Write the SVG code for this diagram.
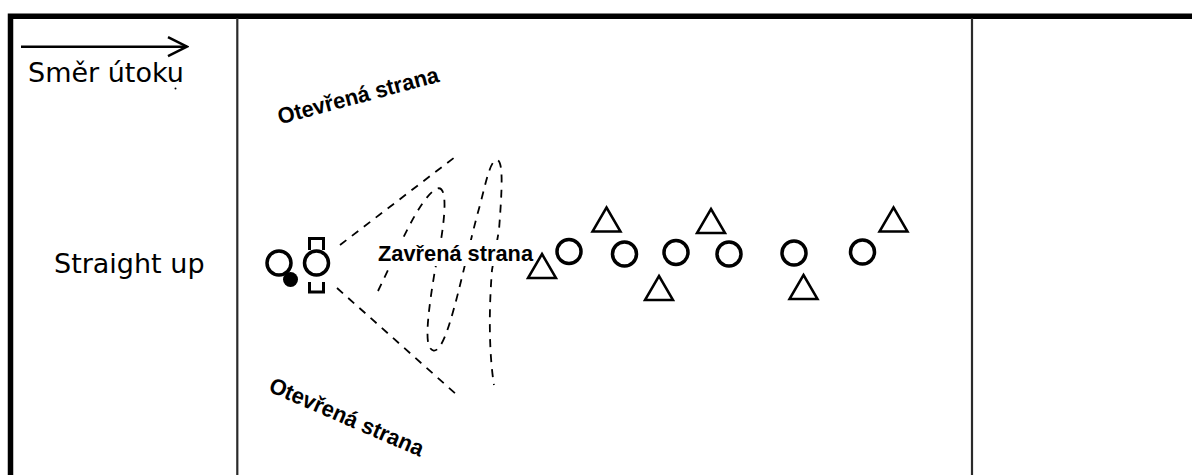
<svg xmlns="http://www.w3.org/2000/svg" width="1192" height="475" viewBox="0 0 1192 475">
  <defs>
    <style>
      .frame { fill: none; stroke: #000; stroke-width: 5.5; stroke-linejoin: miter; }
      .divider { fill: none; stroke: #2a2a2a; stroke-width: 2.2; }
      .label { font-family: "DejaVu Sans", Verdana, sans-serif; font-size: 27px; fill: #000; }
      .zone { font-family: "Liberation Sans", Arial, sans-serif; font-weight: bold; fill: #000; }
      .player { fill: none; stroke: #000; stroke-width: 3.5; }
      .opponent { fill: none; stroke: #000; stroke-width: 2.5; stroke-linejoin: miter; }
      .dash { fill: none; stroke: #000; stroke-width: 1.8; stroke-dasharray: 8 7; }
    </style>
    <marker id="openArrow" viewBox="0 0 22 22" markerWidth="22" markerHeight="22" refX="20" refY="11" markerUnits="userSpaceOnUse" orient="auto">
      <polyline points="1,1.5 20,11 1,20.5" fill="none" stroke="#000" stroke-width="2.5"/>
    </marker>
    <path id="tri" d="M0,0 L14,24 L-14,24 Z"/>
  </defs>

  <rect width="1192" height="475" fill="#fff"/>

  <!-- table frame -->
  <g id="frame">
    <path class="frame" d="M10.5,475 V16.2 H1192"/>
    <line class="divider" x1="237.3" y1="18" x2="237.3" y2="475"/>
    <line class="divider" x1="972" y1="18" x2="972" y2="475"/>
  </g>

  <!-- attack direction -->
  <g id="direction">
    <line x1="21" y1="46.7" x2="187" y2="46.7" stroke="#000" stroke-width="2.5" marker-end="url(#openArrow)"/>
    <text class="label" x="28" y="82">Směr útoku</text>
    <circle cx="175.5" cy="88.5" r="1" fill="#000"/>
  </g>

  <g id="row-label">
    <text class="label" x="54" y="273">Straight up</text>
  </g>

  <!-- dashed zones -->
  <g id="connectors">
    <path class="dash" d="M340,245 L455,157"/>
    <path class="dash" d="M337,288 L457,395"/>
    <path class="dash" d="M378,291 C398,250 418,200 436,189 C448,183 445,215 441,240 L435,270 C430,300 424,340 430,348 C436,356 443,345 450,322 C460,290 470,240 480,205 C486,182 490,162 496,160 C504,158 502,190 499,230 L492,270 C488,320 490,360 494,385"/>
  </g>

  <g id="zone-closed">
    <rect x="376" y="240" width="158" height="26" fill="#fff"/>
    <text class="zone" x="378" y="261" style="font-size:21.5px" textLength="155" lengthAdjust="spacingAndGlyphs">Zavřená strana</text>
  </g>

  <g id="zone-open-top">
    <text class="zone" x="280" y="124.5" style="font-size:22.5px" textLength="166" lengthAdjust="spacingAndGlyphs" transform="rotate(-15 280 124.5)">Otevřená strana</text>
  </g>

  <g id="zone-open-bottom">
    <text class="zone" x="267.5" y="391" style="font-size:22.5px" textLength="166" lengthAdjust="spacingAndGlyphs" transform="rotate(23.4 267.5 391)">Otevřená strana</text>
  </g>

  <!-- ball carrier and support -->
  <g id="carrier">
    <circle class="player" cx="279" cy="263" r="12"/>
    <circle cx="290.5" cy="279.5" r="7.5" fill="#000"/>
  </g>
  <g id="support">
    <circle class="player" cx="316.5" cy="263" r="12"/>
    <path fill="none" stroke="#000" stroke-width="3" d="M309.5,250 V238.5 H323.5 V250"/>
    <path fill="none" stroke="#000" stroke-width="3" d="M309.5,282 V292 H323.5 V282"/>
  </g>

  <!-- attacking line -->
  <g id="attack-1"><circle class="player" cx="569" cy="251.5" r="12"/></g>
  <g id="attack-2"><circle class="player" cx="624.5" cy="254" r="12"/></g>
  <g id="attack-3"><circle class="player" cx="676" cy="252.5" r="12"/></g>
  <g id="attack-4"><circle class="player" cx="729" cy="254" r="12"/></g>
  <g id="attack-5"><circle class="player" cx="794" cy="253" r="12"/></g>
  <g id="attack-6"><circle class="player" cx="862.5" cy="252" r="12"/></g>

  <!-- defenders -->
  <g id="defend-1"><use href="#tri" class="opponent" transform="translate(542,254)"/></g>
  <g id="defend-2"><use href="#tri" class="opponent" transform="translate(606.5,207.5)"/></g>
  <g id="defend-3"><use href="#tri" class="opponent" transform="translate(659,276)"/></g>
  <g id="defend-4"><use href="#tri" class="opponent" transform="translate(711,209)"/></g>
  <g id="defend-5"><use href="#tri" class="opponent" transform="translate(803.5,275)"/></g>
  <g id="defend-6"><use href="#tri" class="opponent" transform="translate(893.5,207.5)"/></g>
</svg>
